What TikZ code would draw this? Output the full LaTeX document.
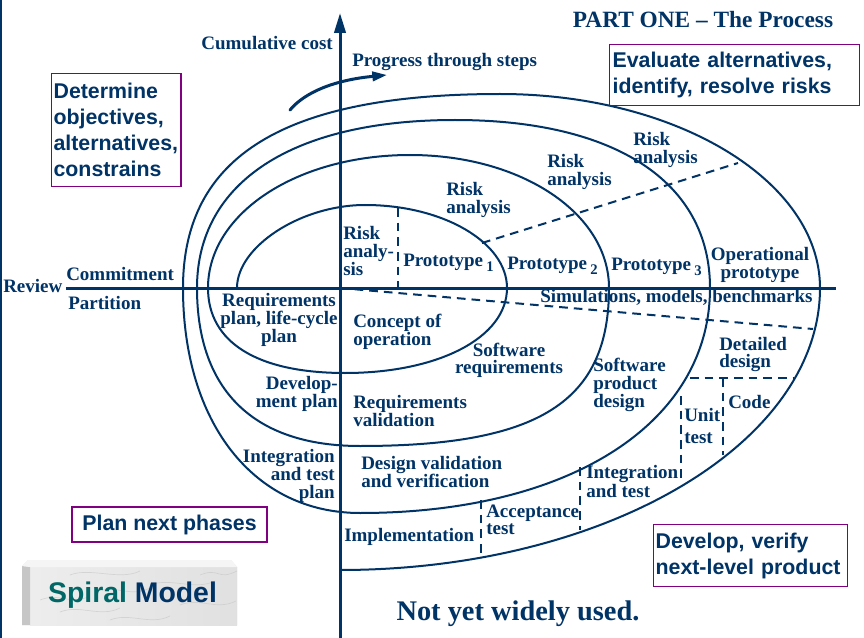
\documentclass[tikz,border=0pt]{standalone}
\usepackage{fontspec}
\setmainfont{Liberation Serif}
\setsansfont{Liberation Sans}
\usetikzlibrary{arrows.meta}
\definecolor{navy}{RGB}{0,51,102}
\definecolor{boxpurple}{RGB}{128,0,128}
\definecolor{tealtxt}{RGB}{0,102,102}
\tikzset{
  axisline/.style={navy, line width=2.25pt},
  spiralline/.style={navy, line width=1.5pt},
  dashline/.style={navy, line width=1.5pt, dash pattern=on 6.5pt off 4.5pt},
  lab/.style={font=\fontsize{14.25}{13.5}\selectfont\bfseries, text=navy, inner sep=0pt, align=left},
  labt/.style={font=\fontsize{14.25}{12.75}\selectfont\bfseries, text=navy, inner sep=0pt, align=left},
  quad/.style={draw=boxpurple, line width=0.9pt, text=navy, font=\fontsize{16}{19.5}\selectfont\sffamily\bfseries, align=left, inner ysep=0pt},
}
\begin{document}
\begin{tikzpicture}[x=0.75pt,y=-0.75pt]
\useasboundingbox (0,0) rectangle (864,638);
\fill[white] (0,0) rectangle (864,638);
% left frame line
\coordinate (ft) at (1,0); \coordinate (fb) at (1,638);
\draw[navy, line width=1.5pt] (ft) -- (fb);

% axes
\coordinate (vbot) at (340,638); \coordinate (vtop) at (340,13);
\coordinate (hl) at (66,288); \coordinate (hr) at (836,288);
\draw[axisline, -{Triangle[length=15pt,width=8.5pt]}] (vbot) -- (vtop);
\draw[axisline] (hl) -- (hr);

% progress arrow
\coordinate (pa) at (290,110); \coordinate (pb) at (387,75);
\draw[navy, line width=2.25pt, line cap=round, -{Triangle[length=11pt,width=7pt]}] (pa) .. controls (305,92) and (335,80) .. (pb);

% spiral (quarter arcs)
\draw[spiralline]
 (237,288) .. controls (237,246.5) and (301,205) .. (365,205)
           .. controls (443.1,205) and (507,242.4) .. (507,288)
           .. controls (507,337.3) and (439,373) .. (345,373)
           .. controls (257.3,373) and (208,342.4) .. (208,288)
           .. controls (208,213.5) and (296.9,155) .. (410,155)
           .. controls (521.4,155) and (609,213.5) .. (609,288)
           .. controls (609,401.8) and (539.3,446) .. (360,446)
           .. controls (254.1,446) and (197,390.7) .. (197,288)
           .. controls (197,182.2) and (292.5,120) .. (455,120)
           .. controls (615.7,120) and (710,182.2) .. (710,288)
           .. controls (710,423) and (570,513) .. (360,513)
           .. controls (253.8,513) and (183,423) .. (183,288)
           .. controls (183,156.1) and (284.4,94) .. (500,94)
           .. controls (676.6,94) and (820,180.9) .. (820,288)
           .. controls (820,443.7) and (605,570) .. (340,570);

% dashed lines
\coordinate (d1a) at (398,208); \coordinate (d1b) at (398,288);
\coordinate (d2a) at (482,243); \coordinate (d2b) at (738,163);
\coordinate (d3a) at (340,288); \coordinate (d3b) at (813,329);
\coordinate (d4a) at (690,378); \coordinate (d4b) at (793,378);
\coordinate (d5a) at (723,378); \coordinate (d5b) at (723,455);
\coordinate (d6a) at (681,396); \coordinate (d6b) at (681,483);
\coordinate (d7a) at (580,467); \coordinate (d7b) at (580,530);
\coordinate (d8a) at (481,500); \coordinate (d8b) at (481,557);
\draw[dashline] (d1a) -- (d1b);
\draw[dashline] (d2a) -- (d2b);
\draw[dashline] (d3a) -- (d3b);
\draw[dashline] (d4a) -- (d4b);
\draw[dashline] (d5a) -- (d5b);
\draw[dashline] (d6a) -- (d6b);
\draw[dashline] (d7a) -- (d7b);
\draw[dashline] (d8a) -- (d8b);

% single-line labels
\node[lab, anchor=base east] (cum) at (333,50) {Cumulative cost};
\node[lab, anchor=base west] (prog) at (352,67) {Progress through steps};
\node[font=\fontsize{17.5}{20}\selectfont\bfseries, text=navy, inner sep=0pt, anchor=base] (title) at (703,28) {PART ONE -- The Process};
\node[lab, anchor=base west] (review) at (3,292) {Review};
\node[lab, anchor=base west] (commit) at (66,280) {Commitment};
\node[lab, anchor=base west] (part) at (68,309) {Partition};
\node[lab, anchor=base west] (sim) at (540,302) {Simulations, models, benchmarks};
\node[lab, anchor=base west] (code) at (728,408) {Code};
\node[lab, anchor=base west] (impl) at (344,541) {Implementation};
\node[lab, anchor=base west] (p1) at (403,266) {Prototype\,\raisebox{-4pt}{\fontsize{11}{11}\selectfont 1}};
\node[lab, anchor=base west] (p2) at (507,269) {Prototype\,\raisebox{-4pt}{\fontsize{11}{11}\selectfont 2}};
\node[lab, anchor=base west] (p3) at (611,270) {Prototype\,\raisebox{-4pt}{\fontsize{11}{11}\selectfont 3}};
\node[font=\fontsize{21.3}{24}\selectfont\bfseries, text=navy, inner sep=0pt, anchor=base] (notyet) at (518,620) {Not yet widely used.};

% multi-line labels
\node[lab, anchor=west] (r0) at (343,251) {Risk\\analy-\\sis};
\node[lab, anchor=west] (r1) at (446,199.5) {Risk\\analysis};
\node[lab, anchor=west] (r2) at (547,171.5) {Risk\\analysis};
\node[lab, anchor=west] (r3) at (633,149.5) {Risk\\analysis};
\node[lab, align=center] (oper) at (760,264.5) {Operational\\prototype};
\node[lab, align=center] (reqplan) at (279,320) {Requirements\\plan, life-cycle\\plan};
\node[lab, anchor=west] (concept) at (353,331.5) {Concept of\\operation};
\node[lab, anchor=east, align=right] (devplan) at (338,394) {Develop-\\ment plan};
\node[lab, anchor=west] (reqval) at (353,410.5) {Requirements\\validation};
\node[labt, align=center] (swreq) at (509,360.5) {Software\\requirements};
\node[lab, anchor=west] (swprod) at (593,385) {Software\\product\\design};
\node[labt, anchor=west] (detail) at (719,354.5) {Detailed\\design};
\node[lab, anchor=west, font=\fontsize{14.25}{16.5}\selectfont\bfseries] (unit) at (684,425.5) {Unit\\test};
\node[lab, anchor=east, align=right] (itplan) at (335,475.5) {Integration\\and test\\plan};
\node[lab, anchor=west] (desval) at (361,472) {Design validation\\and verification};
\node[labt, anchor=west] (accept) at (486,519.5) {Acceptance\\test};
\node[labt, anchor=west] (inttest) at (586,481.5) {Integration\\and test};

% quadrant boxes
\node[quad, anchor=north west, text width=94pt, inner xsep=1.5pt, minimum height=84.75pt] (q1) at (51,73) {Determine\\objectives,\\alternatives,\\constrains};
\node[quad, anchor=north west, text width=183pt, inner xsep=2.25pt, minimum height=45.75pt] (q2) at (609,44) {Evaluate alternatives,\\identify, resolve risks};
\node[quad, align=center, minimum width=146.25pt, minimum height=26.25pt] (q3) at (169.5,524.5) {Plan next phases};
\node[quad, anchor=north west, text width=142.5pt, inner xsep=1.5pt, minimum height=46.5pt] (q4) at (653,524) {Develop, verify\\next-level product};

% Spiral Model plaque
\begin{scope}
\fill[gray!20] (22,566) -- (28,560) -- (231,560) -- (237,567) -- (237,625) -- (22,625) -- cycle;
\clip (30,567) rectangle (237,625);
\shade[left color=gray!14, right color=gray!24] (30,567) rectangle (237,625);
\foreach \a/\b/\c in {40/600/90, 70/575/140, 110/620/170, 150/585/215, 60/612/120, 180/605/236, 95/592/150, 200/575/237}{
  \draw[gray!45, line width=0.5pt, opacity=0.6] (\a,\b) .. controls (\a+20,\b-8) and (\c-20,\b+6) .. (\c,\b-4);
}
\end{scope}
\fill[gray!45] (22,566) -- (30,567) -- (30,625) -- (22,625) -- cycle;
\fill[gray!8] (22,566) -- (28,560) -- (231,560) -- (237,567) -- (30,567) -- cycle;
\node[font=\fontsize{21.3}{24}\selectfont\sffamily\bfseries, inner sep=0pt, anchor=base] (sm) at (132.5,602) {\textcolor{tealtxt}{Spiral} \textcolor{navy}{Model}};
\end{tikzpicture}
\end{document}
